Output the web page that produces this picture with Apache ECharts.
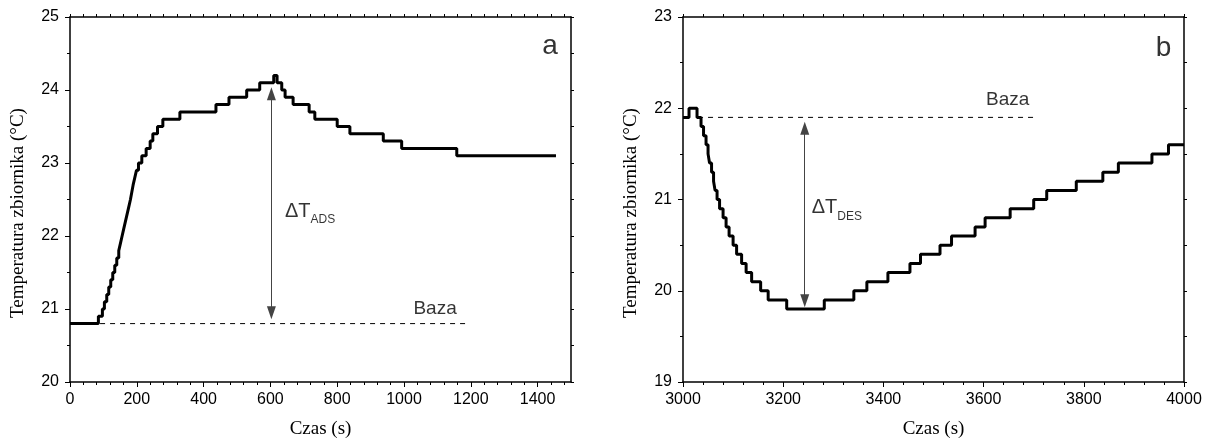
<!DOCTYPE html>
<html><head><meta charset="utf-8">
<script src="https://cdn.jsdelivr.net/npm/echarts@6/dist/echarts.min.js"></script>
<style>html,body{margin:0;padding:0;background:#fff}#c{width:1211px;height:444px}</style>
</head><body><div id="c"></div>
<script>
// ---- data ----
const adsTime = [0, 85, 97, 103, 110, 116, 122, 128, 134, 140, 146, 151, 156, 161, 166, 171, 176, 181, 185, 189, 194, 199, 205, 215, 228, 240, 248, 262, 278, 329, 437, 476, 529, 568, 610, 620, 634, 644, 668, 716, 733, 800, 838, 938, 993, 1158, 1455];
const adsTemp = [20.8, 20.9, 21.0, 21.1, 21.2, 21.3, 21.4, 21.5, 21.6, 21.7, 21.8, 21.9, 22.0, 22.1, 22.2, 22.3, 22.4, 22.5, 22.6, 22.7, 22.8, 22.9, 23.0, 23.1, 23.2, 23.3, 23.4, 23.5, 23.6, 23.7, 23.8, 23.9, 24.0, 24.1, 24.2, 24.1, 24.0, 23.9, 23.8, 23.7, 23.6, 23.5, 23.4, 23.3, 23.2, 23.1, 23.1];
const desTime = [3000, 3012, 3028, 3036, 3041, 3046, 3050, 3053, 3057, 3061, 3064, 3068, 3073, 3080, 3086, 3092, 3100, 3107, 3117, 3126, 3137, 3155, 3170, 3207, 3282, 3341, 3367, 3409, 3453, 3474, 3513, 3536, 3583, 3603, 3653, 3700, 3726, 3785, 3838, 3869, 3936, 3969, 4000];
const desTemp = [21.9, 22.0, 21.9, 21.8, 21.7, 21.6, 21.5, 21.4, 21.3, 21.2, 21.1, 21.0, 20.9, 20.8, 20.7, 20.6, 20.5, 20.4, 20.3, 20.2, 20.1, 20.0, 19.9, 19.8, 19.9, 20.0, 20.1, 20.2, 20.3, 20.4, 20.5, 20.6, 20.7, 20.8, 20.9, 21.0, 21.1, 21.2, 21.3, 21.4, 21.5, 21.6, 21.6];
const adsBaseTime = [90, 1190];
const adsBaseTemp = [20.8, 20.8];
const desBaseTime = [3030, 3700];
const desBaseTemp = [21.9, 21.9];
const adsArrowTime = [603, 603];
const adsArrowTemp = [20.95, 23.95];
const desArrowTime = [3243, 3243];
const desArrowTemp = [19.89, 21.78];
const xTicksA = [0, 200, 400, 600, 800, 1000, 1200, 1400];
const xTicksB = [3000, 3200, 3400, 3600, 3800, 4000];
const yTicksA = [20, 21, 22, 23, 24, 25];
const yTicksB = [19, 20, 21, 22, 23];
const xTitle = 'Czas (s)';
const yTitle = 'Temperatura zbiornika (°C)';
const baseLabel = 'Baza';

// ---- helpers ----
const SANS = 'Liberation Sans, Arial, sans-serif';
const SERIF = 'Liberation Serif, Times New Roman, serif';
const zip = (a, b) => a.map((v, i) => [v, b[i]]);
function stepList(min, max, step) { const o = []; for (let k = 0; min + k * step <= max + 1e-9; k++) o.push(Math.round((min + k * step) * 1000) / 1000); return o; }
const black = { color: '#000', width: 1.5 };
const tickStyle = { color: '#000', width: 1 };
const plain = v => String(v);

function xAxes(g, min, max, majors) {
  const all = stepList(min, max, 40);
  const minors = all.filter(v => !majors.includes(v));
  return [
    { type: 'value', gridIndex: g, position: 'bottom', min, max,
      axisLine: { show: true, onZero: false, lineStyle: black },
      axisTick: { show: true, inside: false, length: 5, customValues: majors, lineStyle: tickStyle },
      axisLabel: { show: true, customValues: majors, formatter: plain, margin: 10, color: '#000', fontSize: 16, fontFamily: SANS },
      splitLine: { show: false },
      name: xTitle, nameLocation: 'middle', nameGap: 38,
      nameTextStyle: { fontFamily: SERIF, fontSize: 19, color: '#000' } },
    { type: 'value', gridIndex: g, position: 'bottom', min, max,
      axisLine: { show: false, onZero: false },
      axisTick: { show: true, inside: false, length: 3, customValues: minors, lineStyle: tickStyle },
      axisLabel: { show: false }, splitLine: { show: false } },
    { type: 'value', gridIndex: g, position: 'top', min, max,
      axisLine: { show: true, onZero: false, lineStyle: black },
      axisTick: { show: true, inside: false, length: 3, customValues: all, lineStyle: tickStyle },
      axisLabel: { show: false }, splitLine: { show: false } }
  ];
}
function yAxes(g, min, max, majors) {
  return [
    { type: 'value', gridIndex: g, position: 'left', min, max, interval: 1,
      axisLine: { show: true, onZero: false, lineStyle: black },
      axisTick: { show: true, inside: false, length: 5, lineStyle: tickStyle },
      minorTick: { show: true, splitNumber: 2, length: 3, lineStyle: tickStyle },
      axisLabel: { show: true, customValues: majors, formatter: plain, margin: 11, color: '#000', fontSize: 16, fontFamily: SANS },
      splitLine: { show: false }, minorSplitLine: { show: false },
      name: yTitle, nameLocation: 'middle', nameGap: 42,
      nameTextStyle: { fontFamily: SERIF, fontSize: 19, color: '#000', padding: [0, 27, 0, 0] } },
    { type: 'value', gridIndex: g, position: 'right', min, max, interval: 0.5,
      axisLine: { show: true, onZero: false, lineStyle: black },
      axisTick: { show: true, inside: false, length: 3, lineStyle: tickStyle },
      axisLabel: { show: false }, splitLine: { show: false } }
  ];
}

const rich = {
  d: { fontSize: 20, lineHeight: 20, verticalAlign: 'top', fontFamily: SANS, color: '#000' },
  s: { fontSize: 12, lineHeight: 12, verticalAlign: 'top', padding: [13, 0, 0, 0], fontFamily: SANS, color: '#000' }
};
function textSeries(xi, yi, items) {
  return { type: 'scatter', xAxisIndex: xi, yAxisIndex: yi, symbolSize: 1, silent: true,
    itemStyle: { color: 'rgba(0,0,0,0)' }, z: 10,
    data: items };
}
function arrowLine(xi, yi, times, temps) {
  return { type: 'line', xAxisIndex: xi, yAxisIndex: yi, data: [], silent: true,
    markLine: { silent: true, animation: false, symbol: ['triangle', 'triangle'], symbolSize: [9, 13],
      label: { show: false }, emphasis: { disabled: true },
      itemStyle: { color: '#000' },
      lineStyle: { color: '#444', width: 1, type: 'solid' },
      data: [[{ coord: [times[0], temps[0]] }, { coord: [times[1], temps[1]] }]] } };
}

const option = {
  animation: false,
  backgroundColor: '#fff',
  grid: [
    { left: 70, top: 17, width: 501, height: 366 },
    { left: 683, top: 17, width: 501, height: 366 }
  ],
  xAxis: [...xAxes(0, 0, 1500, xTicksA), ...xAxes(1, 3000, 4000, xTicksB)],
  yAxis: [...yAxes(0, 20, 25, yTicksA), ...yAxes(1, 19, 23, yTicksB)],
  series: [
    { type: 'line', xAxisIndex: 0, yAxisIndex: 0, data: zip(adsBaseTime, adsBaseTemp), symbol: 'none', silent: true,
      lineStyle: { color: '#000', width: 1, type: [5, 5] } },
    arrowLine(0, 0, adsArrowTime, adsArrowTemp),
    { type: 'line', xAxisIndex: 0, yAxisIndex: 0, step: 'end', data: zip(adsTime, adsTemp), symbol: 'none', silent: true,
      lineStyle: { color: '#000', width: 3 } },
    { type: 'line', xAxisIndex: 3, yAxisIndex: 2, data: zip(desBaseTime, desBaseTemp), symbol: 'none', silent: true,
      lineStyle: { color: '#000', width: 1, type: [5, 5] } },
    arrowLine(3, 2, desArrowTime, desArrowTemp),
    { type: 'line', xAxisIndex: 3, yAxisIndex: 2, step: 'end', data: zip(desTime, desTemp), symbol: 'none', silent: true,
      lineStyle: { color: '#000', width: 3 } },
    textSeries(0, 0, [
      { value: [1093, 21.0], label: { show: true, position: 'inside', formatter: baseLabel, fontSize: 19, fontFamily: SANS, color: '#000' } },
      { value: [642, 22.34], label: { show: true, position: 'right', distance: 0, formatter: '{d|ΔT}{s|ADS}', rich } },
      { value: [1437, 24.6], label: { show: true, position: 'inside', formatter: 'a', fontSize: 28, fontFamily: SANS, color: '#000' } }
    ]),
    textSeries(3, 2, [
      { value: [3648, 22.09], label: { show: true, position: 'inside', formatter: baseLabel, fontSize: 19, fontFamily: SANS, color: '#000' } },
      { value: [3256, 20.91], label: { show: true, position: 'right', distance: 0, formatter: '{d|ΔT}{s|DES}', rich } },
      { value: [3959, 22.66], label: { show: true, position: 'inside', formatter: 'b', fontSize: 28, fontFamily: SANS, color: '#000' } }
    ])
  ]
};
const chart = echarts.init(document.getElementById('c'), null, { renderer: 'canvas' });
chart.setOption(option);
</script>
</body></html>
